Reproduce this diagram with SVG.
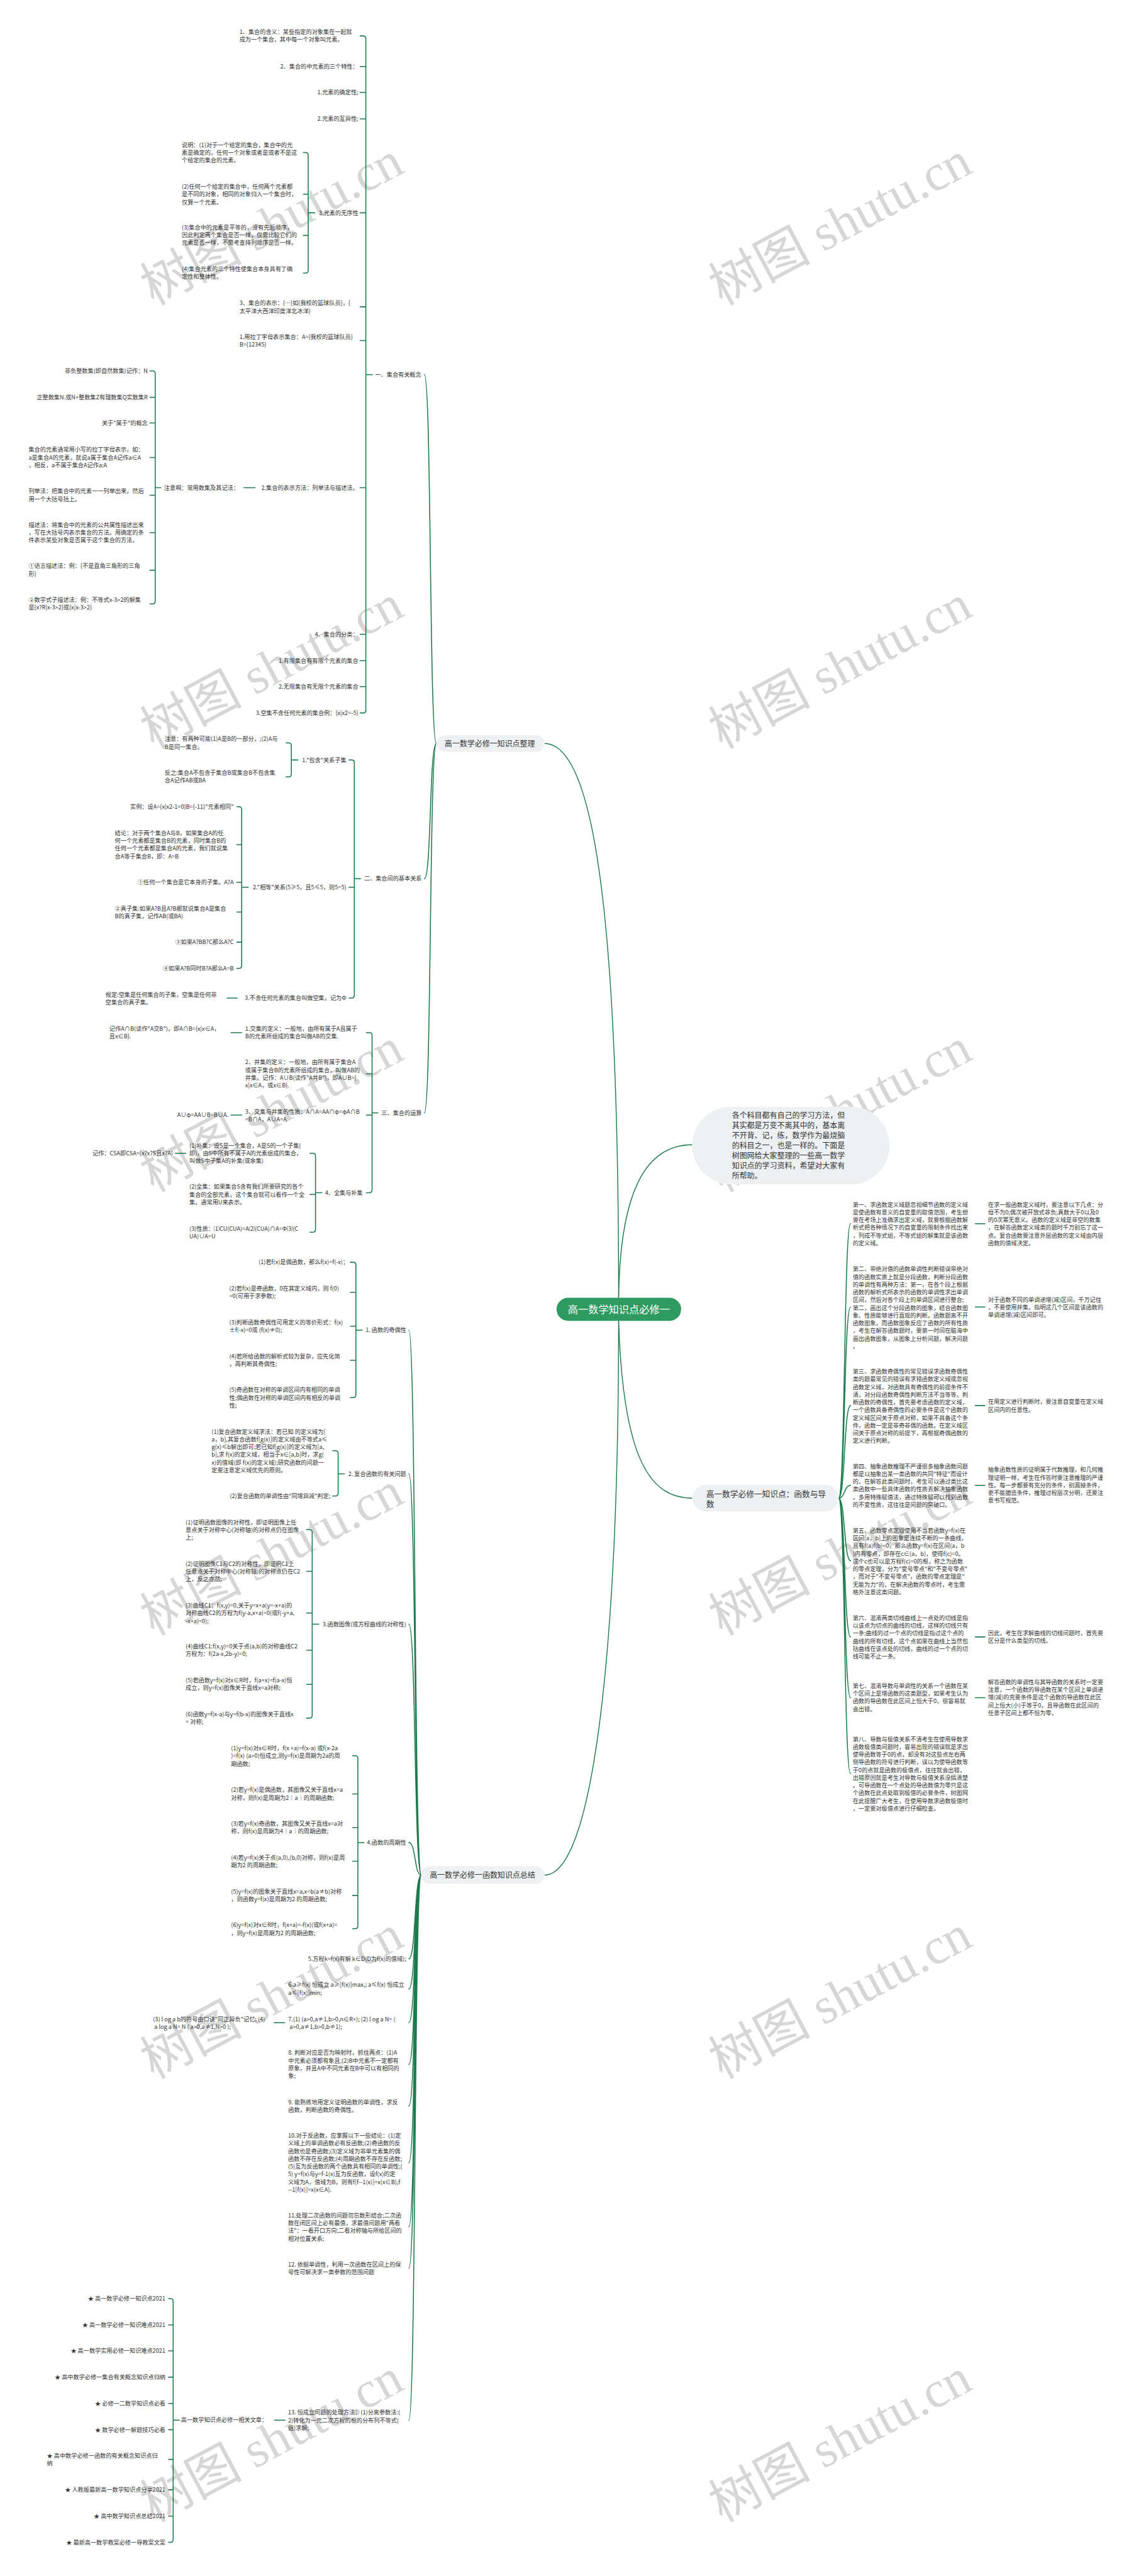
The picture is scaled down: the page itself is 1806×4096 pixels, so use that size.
<svg xmlns="http://www.w3.org/2000/svg" width="1806" height="4096" viewBox="0 0 1806 4096">
<defs>
<style>
.t{font-family:"Noto Sans CJK SC","Noto Sans",sans-serif;font-size:13px;fill:#333}
.e{text-anchor:end}
.lt{font-size:17px}
.rt{font-family:"Noto Sans CJK SC",sans-serif;font-size:23px;fill:#fff;text-anchor:middle}
.c{fill:none;stroke:#1d7a4c;stroke-width:2.2;stroke-linecap:round;stroke-linejoin:round}
.m{fill:none;stroke:#1d7a4c;stroke-width:2}
.lb{fill:#eef1f4}
.wm{font-family:"Liberation Serif","Noto Sans CJK SC",serif;font-size:115px;fill:#d6d6d6}
</style>
</defs>
<rect width="1806" height="4096" fill="#fff"/>
<g transform="scale(0.705)">
<g id="watermarks">
<text class="wm" transform="translate(346,690) rotate(-28)">树图 shutu.cn</text>
<text class="wm" transform="translate(346,1690) rotate(-28)">树图 shutu.cn</text>
<text class="wm" transform="translate(346,2690) rotate(-28)">树图 shutu.cn</text>
<text class="wm" transform="translate(346,3690) rotate(-28)">树图 shutu.cn</text>
<text class="wm" transform="translate(346,4690) rotate(-28)">树图 shutu.cn</text>
<text class="wm" transform="translate(346,5690) rotate(-28)">树图 shutu.cn</text>
<text class="wm" transform="translate(1628,690) rotate(-28)">树图 shutu.cn</text>
<text class="wm" transform="translate(1628,1690) rotate(-28)">树图 shutu.cn</text>
<text class="wm" transform="translate(1628,2690) rotate(-28)">树图 shutu.cn</text>
<text class="wm" transform="translate(1628,3690) rotate(-28)">树图 shutu.cn</text>
<text class="wm" transform="translate(1628,4690) rotate(-28)">树图 shutu.cn</text>
<text class="wm" transform="translate(1628,5690) rotate(-28)">树图 shutu.cn</text>
</g>
<g id="connectors">
<path class="m" d="M1395,2927 C1395,2000 1330,1677 1228,1677"/>
<path class="m" d="M1395,2927 C1398,2700 1450,2582 1561,2582"/>
<path class="m" d="M1395,2979 C1405,3300 1470,3379 1561,3379"/>
<path class="m" d="M1395,2979 C1395,3700 1340,4229 1228,4229"/>
<path class="c" d="M984,1677 C968,1677 973,845 957,845 M984,1677 C968,1677 973,1982 957,1982 M984,1677 C968,1677 973,2510 957,2510"/>
<path class="c" d="M812,81 H819 Q825,81 825,87 V1602 Q825,1608 819,1608 H812 M812,150 H825 M812,208.5 H825 M812,268 H825 M812,480 H825 M812,692 H825 M812,768 H825 M812,1100 H825 M812,1430.5 H825 M812,1490 H825 M812,1548.5 H825 M825,845 H840"/>
<path class="c" d="M684,344 H689 Q695,344 695,350 V610 Q695,616 689,616 H684 M684,438 H695 M684,531 H695 M695,480 H710"/>
<path class="c" d="M550,1100 H575"/>
<path class="c" d="M338,836.5 H344 Q350,836.5 350,842.5 V1356 Q350,1362 344,1362 H338 M338,896 H350 M338,954 H350 M338,1032 H350 M338,1117 H350 M338,1201.5 H350 M338,1286 H350 M350,1100 H363"/>
<path class="c" d="M787,1714 H793 Q799,1714 799,1720 V2245 Q799,2251 793,2251 H787 M787,2001 H799 M799,1982 H813"/>
<path class="c" d="M645,1675.5 H651 Q657,1675.5 657,1681.5 V1746 Q657,1752 651,1752 H645 M657,1714 H672"/>
<path class="c" d="M534,1819.6 H539 Q545,1819.6 545,1825.6 V2178 Q545,2184 539,2184 H534 M534,1905 H545 M534,1990 H545 M534,2057 H545 M534,2125 H545 M545,2001 H560"/>
<path class="c" d="M512,2251 H535"/>
<path class="c" d="M826,2329 H833 Q839,2329 839,2335 V2684 Q839,2690 833,2690 H826 M826,2422 H839 M826,2515 H839 M839,2510 H852"/>
<path class="c" d="M521,2329 H545 M521,2515 H545"/>
<path class="c" d="M699,2601 H705.5 Q711.5,2601 711.5,2607 V2773 Q711.5,2779 705.5,2779 H699 M699,2694 H711.5 M711.5,2690 H726"/>
<path class="c" d="M395,2601 H419"/>
<path class="c" d="M950,4229 C934,4229 938,3000 922,3000 M950,4229 C934,4229 938,3324 922,3324 M950,4229 C934,4229 938,3663 922,3663 M950,4229 C934,4229 938,4155.7 922,4155.7 M950,4229 C934,4229 938,4418 922,4418 M950,4229 C934,4229 938,4486 922,4486 M950,4229 C934,4229 938,4562 922,4562 M950,4229 C934,4229 938,4656 922,4656 M950,4229 C934,4229 938,4750 922,4750 M950,4229 C934,4229 938,4878 922,4878 M950,4229 C934,4229 938,5022 922,5022 M950,4229 C934,4229 938,5116 922,5116 M950,4229 C934,4229 938,5459 922,5459"/>
<path class="c" d="M790,2847 H796.5 Q802.5,2847 802.5,2853 V3146 Q802.5,3152 796.5,3152 H790 M790,2915 H802.5 M790,2991 H802.5 M790,3068 H802.5 M802.5,3000 H817"/>
<path class="c" d="M750,3272 H756.5 Q762.5,3272 762.5,3278 V3368 Q762.5,3374 756.5,3374 H750 M762.5,3324 H777"/>
<path class="c" d="M691.5,3450 H698 Q704,3450 704,3456 V3869 Q704,3875 698,3875 H691.5 M691.5,3544 H704 M691.5,3638 H704 M691.5,3722 H704 M691.5,3799 H704 M704,3663 H719"/>
<path class="c" d="M795,3960 H801 Q807,3960 807,3966 V4344 Q807,4350 801,4350 H795 M795,4046 H807 M795,4122 H807 M795,4198 H807 M795,4275 H807 M807,4155.7 H821"/>
<path class="c" d="M618,4562 H642 M619,5458.5 H643"/>
<path class="c" d="M380,5184.4 H384.5 Q390.5,5184.4 390.5,5190.4 V5728 Q390.5,5734 384.5,5734 H380 M380,5243.7 H390.5 M380,5302 H390.5 M380,5361.5 H390.5 M380,5420.8 H390.5 M380,5480 H390.5 M380,5547 H390.5 M380,5615.4 H390.5 M380,5674.7 H390.5 M390.5,5458.5 H405"/>
<path class="c" d="M1891,3379 C1906,3379 1903,2760 1918,2760 M1891,3379 C1906,3379 1903,2948 1918,2948 M1891,3379 C1906,3379 1903,3170 1918,3170 M1891,3379 C1906,3379 1903,3350 1918,3350 M1891,3379 C1906,3379 1903,3520 1918,3520 M1891,3379 C1906,3379 1903,3692 1918,3692 M1891,3379 C1906,3379 1903,3829 1918,3829 M1891,3379 C1906,3379 1903,4000 1918,4000"/>
<path class="c" d="M2199,2760 H2221 M2199,2948 H2221 M2199,3170 H2221 M2199,3350 H2221 M2199,3692 H2221 M2199,3829 H2221"/>
</g>
<g id="root">
<rect x="1255" y="2927" width="281" height="52" rx="26" fill="#2e9a60"/>
<text class="rt" x="1395.5" y="2961">高一数学知识点必修一</text>
</g>
<g id="intro">
<rect class="lb" x="1561" y="2496" width="445" height="175" rx="87"/>
<text class="t lt" x="1650.6" y="2522.5"><tspan x="1650.6">各个科目都有自己的学习方法，但</tspan><tspan x="1650.6" dy="22.7">其实都是万变不离其中的，基本离</tspan><tspan x="1650.6" dy="22.7">不开背、记，练，数学作为最烧脑</tspan><tspan x="1650.6" dy="22.7">的科目之一，也是一样的。下面是</tspan><tspan x="1650.6" dy="22.7">树图网给大家整理的一些高一数学</tspan><tspan x="1650.6" dy="22.7">知识点的学习资料，希望对大家有</tspan><tspan x="1650.6" dy="22.7">所帮助。</tspan></text>
</g>
<g id="b-zhengli">
<rect class="lb" x="984" y="1658" width="244" height="38" rx="19"/>
<text class="t lt" x="1002.6" y="1683">高一数学必修一知识点整理</text>
</g>
<g id="b-zongjie">
<rect class="lb" x="950" y="4209" width="278" height="40" rx="20"/>
<text class="t lt" x="969" y="4235">高一数学必修一函数知识点总结</text>
</g>
<g id="b-daoshu">
<rect class="lb" x="1561.5" y="3348.6" width="329.5" height="60.4" rx="30"/>
<text class="t" style="font-size:18px" x="1592.5" y="3375.5"><tspan x="1592.5">高一数学必修一知识点：函数与导</tspan><tspan x="1592.5" dy="22.5">数</tspan></text>
</g>
<g id="n-yi"><text class="t" x="846" y="849.5">一、集合有关概念</text></g>
<g id="n-yi-1"><text class="t" x="540" y="76.5"><tspan x="540">1、集合的含义：某些指定的对象集在一起就</tspan><tspan x="540" dy="17.4">成为一个集合，其中每一个对象叫元素。</tspan></text></g>
<g id="n-yi-2"><text class="t e" x="808" y="154.5">2、集合的中元素的三个特性：</text></g>
<g id="n-yi-3"><text class="t e" x="808" y="213">1.元素的确定性;</text></g>
<g id="n-yi-4"><text class="t e" x="808" y="272.5">2.元素的互异性;</text></g>
<g id="n-yi-5"><text class="t e" x="808" y="484.5">3.元素的无序性</text></g>
<g id="n-yi-5a"><text class="t" x="410" y="331.5"><tspan x="410">说明：(1)对于一个给定的集合，集合中的元</tspan><tspan x="410" dy="17.4">素是确定的，任何一个对象或者是或者不是这</tspan><tspan x="410" dy="17.4">个给定的集合的元素。</tspan></text></g>
<g id="n-yi-5b"><text class="t" x="410" y="425.5"><tspan x="410">(2)任何一个给定的集合中，任何两个元素都</tspan><tspan x="410" dy="17.4">是不同的对象，相同的对象归入一个集合时，</tspan><tspan x="410" dy="17.4">仅算一个元素。</tspan></text></g>
<g id="n-yi-5c"><text class="t" x="410" y="517.5"><tspan x="410">(3)集合中的元素是平等的，没有先后顺序，</tspan><tspan x="410" dy="17.4">因此判定两个集合是否一样，仅需比较它们的</tspan><tspan x="410" dy="17.4">元素是否一样，不需考查排列顺序是否一样。</tspan></text></g>
<g id="n-yi-5d"><text class="t" x="410" y="611.5"><tspan x="410">(4)集合元素的三个特性使集合本身具有了确</tspan><tspan x="410" dy="17.4">定性和整体性。</tspan></text></g>
<g id="n-yi-6"><text class="t" x="540" y="688.5"><tspan x="540">3、集合的表示：{…}如{我校的篮球队员}，{</tspan><tspan x="540" dy="17.4">太平洋大西洋印度洋北冰洋}</tspan></text></g>
<g id="n-yi-7"><text class="t" x="540" y="764.5"><tspan x="540">1.用拉丁字母表示集合：A={我校的篮球队员}</tspan><tspan x="540" dy="17.4">B={12345}</tspan></text></g>
<g id="n-yi-8"><text class="t e" x="808" y="1104.5">2.集合的表示方法：列举法与描述法。</text></g>
<g id="n-zhuyi"><text class="t" x="370" y="1104.5">注意啊：常用数集及其记法：</text></g>
<g id="n-zy-a"><text class="t e" x="333" y="841">非负整数集(即自然数集)记作：N</text></g>
<g id="n-zy-b"><text class="t e" x="333" y="900.5">正整数集N.或N+整数集Z有理数集Q实数集R</text></g>
<g id="n-zy-c"><text class="t e" x="333" y="958.5">关于"属于"的概念</text></g>
<g id="n-zy-d"><text class="t" x="64.5" y="1019"><tspan x="64.5">集合的元素通常用小写的拉丁字母表示，如：</tspan><tspan x="64.5" dy="17.4">a是集合A的元素，就说a属于集合A记作a∈A</tspan><tspan x="64.5" dy="17.4">，相反，a不属于集合A记作a:A</tspan></text></g>
<g id="n-zy-e"><text class="t" x="64.5" y="1112.5"><tspan x="64.5">列举法：把集合中的元素一一列举出来，然后</tspan><tspan x="64.5" dy="17.4">用一个大括号括上。</tspan></text></g>
<g id="n-zy-f"><text class="t" x="64.5" y="1188.5"><tspan x="64.5">描述法：将集合中的元素的公共属性描述出来</tspan><tspan x="64.5" dy="17.4">，写在大括号内表示集合的方法。用确定的条</tspan><tspan x="64.5" dy="17.4">件表示某些对象是否属于这个集合的方法。</tspan></text></g>
<g id="n-zy-g"><text class="t" x="64.5" y="1281.5"><tspan x="64.5">①语言描述法：例：{不是直角三角形的三角</tspan><tspan x="64.5" dy="17.4">形}</tspan></text></g>
<g id="n-zy-h"><text class="t" x="64.5" y="1357.5"><tspan x="64.5">②数学式子描述法：例：不等式x-3&gt;2的解集</tspan><tspan x="64.5" dy="17.4">是{x?R|x-3&gt;2}或{x|x-3&gt;2}</tspan></text></g>
<g id="n-yi-9"><text class="t e" x="808" y="1435">4、集合的分类：</text></g>
<g id="n-yi-10"><text class="t e" x="808" y="1494.5">1.有限集合有有限个元素的集合</text></g>
<g id="n-yi-11"><text class="t e" x="808" y="1553">2.无限集合有无限个元素的集合</text></g>
<g id="n-yi-12"><text class="t e" x="808" y="1612.5">3.空集不含任何元素的集合例：{x|x2=-5}</text></g>
<g id="n-er"><text class="t e" x="951" y="1986.5">二、集合间的基本关系</text></g>
<g id="n-er-1"><text class="t e" x="781" y="1718.5">1."包含"关系子集</text></g>
<g id="n-er-1a"><text class="t" x="371.4" y="1671.5"><tspan x="371.4">注意：有两种可能(1)A是B的一部分，;(2)A与</tspan><tspan x="371.4" dy="17.4">B是同一集合。</tspan></text></g>
<g id="n-er-1b"><text class="t" x="371.4" y="1747.5"><tspan x="371.4">反之:集合A不包含于集合B或集合B不包含集</tspan><tspan x="371.4" dy="17.4">合A记作AB或BA</tspan></text></g>
<g id="n-er-2"><text class="t e" x="781" y="2005.5">2."相等"关系(5≥5，且5≤5，则5=5)</text></g>
<g id="n-er-2a"><text class="t e" x="527" y="1824">实例：设A={x|x2-1=0}B={-11}"元素相同"</text></g>
<g id="n-er-2b"><text class="t" x="259" y="1883.5"><tspan x="259">结论：对于两个集合A与B，如果集合A的任</tspan><tspan x="259" dy="17.4">何一个元素都是集合B的元素，同时集合B的</tspan><tspan x="259" dy="17.4">任何一个元素都是集合A的元素，我们就说集</tspan><tspan x="259" dy="17.4">合A等于集合B，即：A=B</tspan></text></g>
<g id="n-er-2c"><text class="t e" x="527" y="1994.5">①任何一个集合是它本身的子集。A?A</text></g>
<g id="n-er-2d"><text class="t" x="259" y="2053.5"><tspan x="259">②真子集:如果A?B且A?B那就说集合A是集合</tspan><tspan x="259" dy="17.4">B的真子集，记作AB(或BA)</tspan></text></g>
<g id="n-er-2e"><text class="t e" x="527" y="2129.5">③如果A?BB?C那么A?C</text></g>
<g id="n-er-2f"><text class="t e" x="527" y="2188.5">④如果A?B同时B?A那么A=B</text></g>
<g id="n-er-3"><text class="t e" x="781" y="2255.5">3.不含任何元素的集合叫做空集，记为Φ</text></g>
<g id="n-er-3a"><text class="t" x="238" y="2248.5"><tspan x="238">规定:空集是任何集合的子集，空集是任何非</tspan><tspan x="238" dy="17.4">空集合的真子集。</tspan></text></g>
<g id="n-san"><text class="t e" x="951" y="2514.5">三、集合的运算</text></g>
<g id="n-san-1"><text class="t" x="553" y="2324.5"><tspan x="553">1.交集的定义：一般地，由所有属于A且属于</tspan><tspan x="553" dy="17.4">B的元素所组成的集合叫做AB的交集.</tspan></text></g>
<g id="n-san-1a"><text class="t" x="246.6" y="2324.5"><tspan x="246.6">记作A∩B(读作"A交B")，即A∩B={x|x∈A，</tspan><tspan x="246.6" dy="17.4">且x∈B}.</tspan></text></g>
<g id="n-san-2"><text class="t" x="553" y="2400.5"><tspan x="553">2、并集的定义：一般地，由所有属于集合A</tspan><tspan x="553" dy="17.4">或属于集合B的元素所组成的集合，叫做AB的</tspan><tspan x="553" dy="17.4">并集。记作：A∪B(读作"A并B")，即A∪B={</tspan><tspan x="553" dy="17.4">x|x∈A，或x∈B}.</tspan></text></g>
<g id="n-san-3"><text class="t" x="553" y="2511.5"><tspan x="553">3、交集与并集的性质：A∩A=AA∩φ=φA∩B</tspan><tspan x="553" dy="17.4">=B∩A，A∪A=A</tspan></text></g>
<g id="n-san-3a"><text class="t e" x="515" y="2519.5">A∪φ=AA∪B=B∪A.</text></g>
<g id="n-san-4"><text class="t e" x="818" y="2694.5">4、全集与补集</text></g>
<g id="n-san-4a"><text class="t" x="427" y="2588.5"><tspan x="427">(1)补集：设S是一个集合，A是S的一个子集(</tspan><tspan x="427" dy="17.4">即)，由S中所有不属于A的元素组成的集合，</tspan><tspan x="427" dy="17.4">叫做S中子集A的补集(或余集)</tspan></text></g>
<g id="n-san-4a1"><text class="t e" x="390" y="2605.5">记作：CSA即CSA={x?x?S且x?A}</text></g>
<g id="n-san-4b"><text class="t" x="427" y="2681.5"><tspan x="427">(2)全集：如果集合S含有我们所要研究的各个</tspan><tspan x="427" dy="17.4">集合的全部元素，这个集合就可以看作一个全</tspan><tspan x="427" dy="17.4">集。通常用U来表示。</tspan></text></g>
<g id="n-san-4c"><text class="t" x="427" y="2775.5"><tspan x="427">(3)性质：⑴CU(CUA)=A⑵(CUA)∩A=Φ⑶(C</tspan><tspan x="427" dy="17.4">UA)∪A=U</tspan></text></g>
<g id="f1"><text class="t e" x="916" y="3004.5">1. 函数的奇偶性</text></g>
<g id="f1a"><text class="t e" x="786" y="2851.5">(1)若f(x)是偶函数，那么f(x)=f(-x)；</text></g>
<g id="f1b"><text class="t" x="517" y="2910.5"><tspan x="517">(2)若f(x)是奇函数，0在其定义域内，则 f(0)</tspan><tspan x="517" dy="17.4">=0(可用于求参数);</tspan></text></g>
<g id="f1c"><text class="t" x="517" y="2987.5"><tspan x="517">(3)判断函数奇偶性可用定义的等价形式：f(x)</tspan><tspan x="517" dy="17.4">±f(-x)=0或 (f(x)≠0);</tspan></text></g>
<g id="f1d"><text class="t" x="517" y="3064"><tspan x="517">(4)若所给函数的解析式较为复杂，应先化简</tspan><tspan x="517" dy="17.4">，再判断其奇偶性;</tspan></text></g>
<g id="f1e"><text class="t" x="517" y="3139.5"><tspan x="517">(5)奇函数在对称的单调区间内有相同的单调</tspan><tspan x="517" dy="17.4">性;偶函数在对称的单调区间内有相反的单调</tspan><tspan x="517" dy="17.4">性;</tspan></text></g>
<g id="f2"><text class="t e" x="916" y="3328.5">2. 复合函数的有关问题</text></g>
<g id="f2a"><text class="t" x="477" y="3233.5"><tspan x="477">(1)复合函数定义域求法：若已知 的定义域为[</tspan><tspan x="477" dy="17.4">a，b],其复合函数f[g(x)]的定义域由不等式a≤</tspan><tspan x="477" dy="17.4">g(x)≤b解出即可;若已知f[g(x)]的定义域为[a,</tspan><tspan x="477" dy="17.4">b],求 f(x)的定义域，相当于x∈[a,b]时，求g(</tspan><tspan x="477" dy="17.4">x)的值域(即 f(x)的定义域);研究函数的问题一</tspan><tspan x="477" dy="17.4">定要注意定义域优先的原则。</tspan></text></g>
<g id="f2b"><text class="t e" x="745" y="3378.5">(2)复合函数的单调性由"同增异减"判定;</text></g>
<g id="f3"><text class="t e" x="916" y="3667.5">3.函数图像(或方程曲线的对称性)</text></g>
<g id="f3a"><text class="t" x="418.6" y="3438"><tspan x="418.6">(1)证明函数图像的对称性，即证明图像上任</tspan><tspan x="418.6" dy="17.4">意点关于对称中心(对称轴)的对称点仍在图像</tspan><tspan x="418.6" dy="17.4">上;</tspan></text></g>
<g id="f3b"><text class="t" x="418.6" y="3531.5"><tspan x="418.6">(2)证明图像C1与C2的对称性，即证明C1上</tspan><tspan x="418.6" dy="17.4">任意点关于对称中心(对称轴)的对称点仍在C2</tspan><tspan x="418.6" dy="17.4">上，反之亦然;</tspan></text></g>
<g id="f3c"><text class="t" x="418.6" y="3625.5"><tspan x="418.6">(3)曲线C1：f(x,y)=0,关于y=x+a(y=-x+a)的</tspan><tspan x="418.6" dy="17.4">对称曲线C2的方程为f(y-a,x+a)=0(或f(-y+a,</tspan><tspan x="418.6" dy="17.4">-x+a)=0);</tspan></text></g>
<g id="f3d"><text class="t" x="418.6" y="3718"><tspan x="418.6">(4)曲线C1:f(x,y)=0关于点(a,b)的对称曲线C2</tspan><tspan x="418.6" dy="17.4">方程为：f(2a-x,2b-y)=0;</tspan></text></g>
<g id="f3e"><text class="t" x="418.6" y="3794.5"><tspan x="418.6">(5)若函数y=f(x)对x∈R时，f(a+x)=f(a-x)恒</tspan><tspan x="418.6" dy="17.4">成立，则y=f(x)图像关于直线x=a对称;</tspan></text></g>
<g id="f3f"><text class="t" x="418.6" y="3871"><tspan x="418.6">(6)函数y=f(x-a)与y=f(b-x)的图像关于直线x</tspan><tspan x="418.6" dy="17.4">= 对称;</tspan></text></g>
<g id="f4"><text class="t e" x="916" y="4160">4.函数的周期性</text></g>
<g id="f4a"><text class="t" x="521" y="3947.5"><tspan x="521">(1)y=f(x)对x∈R时，f(x +a)=f(x-a) 或f(x-2a</tspan><tspan x="521" dy="17.4">)=f(x) (a&gt;0)恒成立,则y=f(x)是周期为2a的周</tspan><tspan x="521" dy="17.4">期函数;</tspan></text></g>
<g id="f4b"><text class="t" x="521" y="4041.5"><tspan x="521">(2)若y=f(x)是偶函数，其图像又关于直线x=a</tspan><tspan x="521" dy="17.4">对称，则f(x)是周期为2｜a｜的周期函数;</tspan></text></g>
<g id="f4c"><text class="t" x="521" y="4117.5"><tspan x="521">(3)若y=f(x)奇函数，其图像又关于直线x=a对</tspan><tspan x="521" dy="17.4">称，则f(x)是周期为4｜a｜的周期函数;</tspan></text></g>
<g id="f4d"><text class="t" x="521" y="4194"><tspan x="521">(4)若y=f(x)关于点(a,0),(b,0)对称，则f(x)是周</tspan><tspan x="521" dy="17.4">期为2 的周期函数;</tspan></text></g>
<g id="f4e"><text class="t" x="521" y="4270.5"><tspan x="521">(5)y=f(x)的图象关于直线x=a,x=b(a≠b)对称</tspan><tspan x="521" dy="17.4">，则函数y=f(x)是周期为2 的周期函数;</tspan></text></g>
<g id="f4f"><text class="t" x="521" y="4346.5"><tspan x="521">(6)y=f(x)对x∈R时，f(x+a)=-f(x)(或f(x+a)=</tspan><tspan x="521" dy="17.4">，则y=f(x)是周期为2 的周期函数;</tspan></text></g>
<g id="f5"><text class="t e" x="916" y="4422.5">5.方程k=f(x)有解 k∈D(D为f(x)的值域);</text></g>
<g id="f6"><text class="t" x="650" y="4481.5"><tspan x="650">6.a≥f(x) 恒成立 a≥[f(x)]max,; a≤f(x) 恒成立</tspan><tspan x="650" dy="17.4">a≤[f(x)]min;</tspan></text></g>
<g id="f7"><text class="t" x="650" y="4558.5"><tspan x="650">7.(1) (a&gt;0,a≠1,b&gt;0,n∈R+); (2) l og a N= (</tspan><tspan x="650" dy="17.4"> a&gt;0,a≠1,b&gt;0,b≠1);</tspan></text></g>
<g id="f7a"><text class="t" x="345" y="4558.5"><tspan x="345">(3) l og a b的符号由口诀"同正异负"记忆; (4)</tspan><tspan x="345" dy="17.4"> a log a N= N ( a&gt;0,a≠1,N&gt;0 );</tspan></text></g>
<g id="f8"><text class="t" x="650" y="4634.5"><tspan x="650">8. 判断对应是否为映射时，抓住两点：(1)A</tspan><tspan x="650" dy="17.4">中元素必须都有象且;(2)B中元素不一定都有</tspan><tspan x="650" dy="17.4">原象，并且A中不同元素在B中可以有相同的</tspan><tspan x="650" dy="17.4">象;</tspan></text></g>
<g id="f9"><text class="t" x="650" y="4745.5"><tspan x="650">9. 能熟练地用定义证明函数的单调性，求反</tspan><tspan x="650" dy="17.4">函数，判断函数的奇偶性。</tspan></text></g>
<g id="f10"><text class="t" x="649.5" y="4821.5"><tspan x="649.5">10.对于反函数，应掌握以下一些结论：(1)定</tspan><tspan x="649.5" dy="17.4">义域上的单调函数必有反函数;(2)奇函数的反</tspan><tspan x="649.5" dy="17.4">函数也是奇函数;(3)定义域为非单元素集的偶</tspan><tspan x="649.5" dy="17.4">函数不存在反函数;(4)周期函数不存在反函数;</tspan><tspan x="649.5" dy="17.4">(5)互为反函数的两个函数具有相同的单调性;(</tspan><tspan x="649.5" dy="17.4">5) y=f(x)与y=f-1(x)互为反函数，设f(x)的定</tspan><tspan x="649.5" dy="17.4">义域为A，值域为B，则有f[f--1(x)]=x(x∈B),f</tspan><tspan x="649.5" dy="17.4">--1[f(x)]=x(x∈A).</tspan></text></g>
<g id="f11"><text class="t" x="649.5" y="5001"><tspan x="649.5">11.处理二次函数的问题勿忘数形结合;二次函</tspan><tspan x="649.5" dy="17.4">数在闭区间上必有最值，求最值问题用"两看</tspan><tspan x="649.5" dy="17.4">法"：一看开口方向;二看对称轴与所给区间的</tspan><tspan x="649.5" dy="17.4">相对位置关系;</tspan></text></g>
<g id="f12"><text class="t" x="649.5" y="5112"><tspan x="649.5">12. 依据单调性，利用一次函数在区间上的保</tspan><tspan x="649.5" dy="17.4">号性可解决求一类参数的范围问题</tspan></text></g>
<g id="f13"><text class="t" x="649.5" y="5446"><tspan x="649.5">13. 恒成立问题的处理方法：(1)分离参数法:(</tspan><tspan x="649.5" dy="17.4">2)转化为一元二次方程的根的分布列不等式(</tspan><tspan x="649.5" dy="17.4">组)求解;</tspan></text></g>
<g id="f13a"><text class="t e" x="603" y="5463">高一数学知识点必修一相关文章：</text></g>
<g id="w1"><text class="t e" x="373" y="5189">★ 高一数学必修一知识点2021</text></g>
<g id="w2"><text class="t e" x="373" y="5248">★ 高一数学必修一知识难点2021</text></g>
<g id="w3"><text class="t e" x="373" y="5306.5">★ 高一数学实用必修一知识难点2021</text></g>
<g id="w4"><text class="t e" x="373" y="5366">★ 高中数学必修一集合有关概念知识点归纳</text></g>
<g id="w5"><text class="t e" x="373" y="5425">★ 必修一二数学知识点必看</text></g>
<g id="w6"><text class="t e" x="373" y="5484.5">★ 数学必修一解题技巧必看</text></g>
<g id="w7"><text class="t" x="105.8" y="5543.5"><tspan x="105.8">★ 高中数学必修一函数的有关概念知识点归</tspan><tspan x="105.8" dy="17.4">纳</tspan></text></g>
<g id="w8"><text class="t e" x="373" y="5620">★ 人教版最新高一数学知识点分享2021</text></g>
<g id="w9"><text class="t e" x="373" y="5679">★ 高中数学知识点总结2021</text></g>
<g id="w10"><text class="t e" x="373" y="5738.5">★ 最新高一数学教案必修一导教案文案</text></g>
<g id="r1"><text class="t" x="1923" y="2721.5"><tspan x="1923">第一、求函数定义域题忽视细节函数的定义域</tspan><tspan x="1923" dy="17.4">是使函数有意义的自变量的取值范围，考生想</tspan><tspan x="1923" dy="17.4">要在考场上准确求出定义域，就要根据函数解</tspan><tspan x="1923" dy="17.4">析式把各种情况下的自变量的限制条件找出来</tspan><tspan x="1923" dy="17.4">，列成不等式组，不等式组的解集就是该函数</tspan><tspan x="1923" dy="17.4">的定义域。</tspan></text></g>
<g id="r1a"><text class="t" x="2228" y="2721.5"><tspan x="2228">在求一般函数定义域时，要注意以下几点：分</tspan><tspan x="2228" dy="17.4">母不为0;偶次被开放式非负;真数大于0以及0</tspan><tspan x="2228" dy="17.4">的0次幂无意义。函数的定义域是非空的数集</tspan><tspan x="2228" dy="17.4">，在解答函数定义域类的题时千万别忘了这一</tspan><tspan x="2228" dy="17.4">点。复合函数要注意外层函数的定义域由内层</tspan><tspan x="2228" dy="17.4">函数的值域决定。</tspan></text></g>
<g id="r2"><text class="t" x="1923" y="2867"><tspan x="1923">第二、带绝对值的函数单调性判断错误带绝对</tspan><tspan x="1923" dy="17.4">值的函数实质上就是分段函数，判断分段函数</tspan><tspan x="1923" dy="17.4">的单调性有两种方法：第一，在各个段上根据</tspan><tspan x="1923" dy="17.4">函数的解析式所表示的函数的单调性求出单调</tspan><tspan x="1923" dy="17.4">区间，然后对各个段上的单调区间进行整合;</tspan><tspan x="1923" dy="17.4">第二，画出这个分段函数的图象，结合函数图</tspan><tspan x="1923" dy="17.4">象、性质能够进行直观的判断。函数题离不开</tspan><tspan x="1923" dy="17.4">函数图象，而函数图象反应了函数的所有性质</tspan><tspan x="1923" dy="17.4">，考生在解答函数题时，要第一时间在脑海中</tspan><tspan x="1923" dy="17.4">画出函数图象，从图象上分析问题，解决问题</tspan><tspan x="1923" dy="17.4">。</tspan></text></g>
<g id="r2a"><text class="t" x="2228" y="2935.5"><tspan x="2228">对于函数不同的单调递增(减)区间，千万记住</tspan><tspan x="2228" dy="17.4">，不要使用并集，指明这几个区间是该函数的</tspan><tspan x="2228" dy="17.4">单调递增(减)区间即可。</tspan></text></g>
<g id="r3"><text class="t" x="1923" y="3098"><tspan x="1923">第三、求函数奇偶性的常见错误求函数奇偶性</tspan><tspan x="1923" dy="17.4">类的题最常见的错误有求错函数定义域或忽视</tspan><tspan x="1923" dy="17.4">函数定义域，对函数具有奇偶性的前提条件不</tspan><tspan x="1923" dy="17.4">清，对分段函数奇偶性判断方法不当等等。判</tspan><tspan x="1923" dy="17.4">断函数的奇偶性，首先要考虑函数的定义域，</tspan><tspan x="1923" dy="17.4">一个函数具备奇偶性的必要条件是这个函数的</tspan><tspan x="1923" dy="17.4">定义域区间关于原点对称，如果不具备这个条</tspan><tspan x="1923" dy="17.4">件，函数一定是非奇非偶的函数。在定义域区</tspan><tspan x="1923" dy="17.4">间关于原点对称的前提下，再根据奇偶函数的</tspan><tspan x="1923" dy="17.4">定义进行判断。</tspan></text></g>
<g id="r3a"><text class="t" x="2228" y="3166.5"><tspan x="2228">在用定义进行判断时，要注意自变量在定义域</tspan><tspan x="2228" dy="17.4">区间内的任意性。</tspan></text></g>
<g id="r4"><text class="t" x="1923" y="3311.5"><tspan x="1923">第四、抽象函数推理不严谨很多抽象函数问题</tspan><tspan x="1923" dy="17.4">都是以抽象出某一类函数的共同"特征"而设计</tspan><tspan x="1923" dy="17.4">的，在解答此类问题时，考生可以通过类比这</tspan><tspan x="1923" dy="17.4">类函数中一些具体函数的性质去解决抽象函数</tspan><tspan x="1923" dy="17.4">。多用特殊赋值法，通过特殊赋可以找到函数</tspan><tspan x="1923" dy="17.4">的不变性质，这往往是问题的突破口。</tspan></text></g>
<g id="r4a"><text class="t" x="2228" y="3319.5"><tspan x="2228">抽象函数性质的证明属于代数推理，和几何推</tspan><tspan x="2228" dy="17.4">理证明一样，考生在作答时要注意推理的严谨</tspan><tspan x="2228" dy="17.4">性。每一步都要有充分的条件，别漏掉条件，</tspan><tspan x="2228" dy="17.4">更不能臆造条件，推理过程层次分明，还要注</tspan><tspan x="2228" dy="17.4">意书写规范。</tspan></text></g>
<g id="r5"><text class="t" x="1923" y="3456.5"><tspan x="1923">第五、函数零点定理使用不当若函数y=f(x)在</tspan><tspan x="1923" dy="17.4">区间[a，b]上的图象是连续不断的一条曲线，</tspan><tspan x="1923" dy="17.4">且有f(a)f(b)&lt;0，那么函数y=f(x)在区间(a，b</tspan><tspan x="1923" dy="17.4">)内有零点，即存在c∈(a，b)，使得f(c)=0。</tspan><tspan x="1923" dy="17.4">这个c也可以是方程f(c)=0的根，称之为函数</tspan><tspan x="1923" dy="17.4">的零点定理，分为"变号零点"和"不变号零点"</tspan><tspan x="1923" dy="17.4">，而对于"不变号零点"，函数的零点定理是"</tspan><tspan x="1923" dy="17.4">无能为力"的，在解决函数的零点时，考生需</tspan><tspan x="1923" dy="17.4">格外注意这类问题。</tspan></text></g>
<g id="r6"><text class="t" x="1923" y="3653.5"><tspan x="1923">第六、混淆两类切线曲线上一点处的切线是指</tspan><tspan x="1923" dy="17.4">以该点为切点的曲线的切线，这样的切线只有</tspan><tspan x="1923" dy="17.4">一条;曲线的过一个点的切线是指过这个点的</tspan><tspan x="1923" dy="17.4">曲线的所有切线，这个点如果在曲线上当然包</tspan><tspan x="1923" dy="17.4">括曲线在该点处的切线，曲线的过一个点的切</tspan><tspan x="1923" dy="17.4">线可能不止一条。</tspan></text></g>
<g id="r6a"><text class="t" x="2228" y="3687.5"><tspan x="2228">因此，考生在求解曲线的切线问题时，首先要</tspan><tspan x="2228" dy="17.4">区分是什么类型的切线。</tspan></text></g>
<g id="r7"><text class="t" x="1923" y="3807"><tspan x="1923">第七、混淆导数与单调性的关系一个函数在某</tspan><tspan x="1923" dy="17.4">个区间上是增函数的这类题型，如果考生认为</tspan><tspan x="1923" dy="17.4">函数的导函数在此区间上恒大于0，很容易就</tspan><tspan x="1923" dy="17.4">会出错。</tspan></text></g>
<g id="r7a"><text class="t" x="2228" y="3798.5"><tspan x="2228">解答函数的单调性与其导函数的关系时一定要</tspan><tspan x="2228" dy="17.4">注意，一个函数的导函数在某个区间上单调递</tspan><tspan x="2228" dy="17.4">增(减)的充要条件是这个函数的导函数在此区</tspan><tspan x="2228" dy="17.4">间上恒大(小)于等于0，且导函数在此区间的</tspan><tspan x="2228" dy="17.4">任意子区间上都不恒为零。</tspan></text></g>
<g id="r8"><text class="t" x="1923" y="3927"><tspan x="1923">第八、导数与极值关系不清考生在使用导数求</tspan><tspan x="1923" dy="17.4">函数极值类问题时，容易出现的错误就是求出</tspan><tspan x="1923" dy="17.4">使导函数等于0的点，却没有对这些点左右两</tspan><tspan x="1923" dy="17.4">侧导函数的符号进行判断，误以为使导函数等</tspan><tspan x="1923" dy="17.4">于0的点就是函数的极值点，往往就会出错，</tspan><tspan x="1923" dy="17.4">出错原因就是考生对导数与极值关系没搞清楚</tspan><tspan x="1923" dy="17.4">。可导函数在一个点处的导函数值为零只是这</tspan><tspan x="1923" dy="17.4">个函数在此点处取到极值的必要条件，树图网</tspan><tspan x="1923" dy="17.4">在此提醒广大考生，在使用导数求函数极值时</tspan><tspan x="1923" dy="17.4">，一定要对极值点进行仔细检查。</tspan></text></g>
</g>
</svg>
